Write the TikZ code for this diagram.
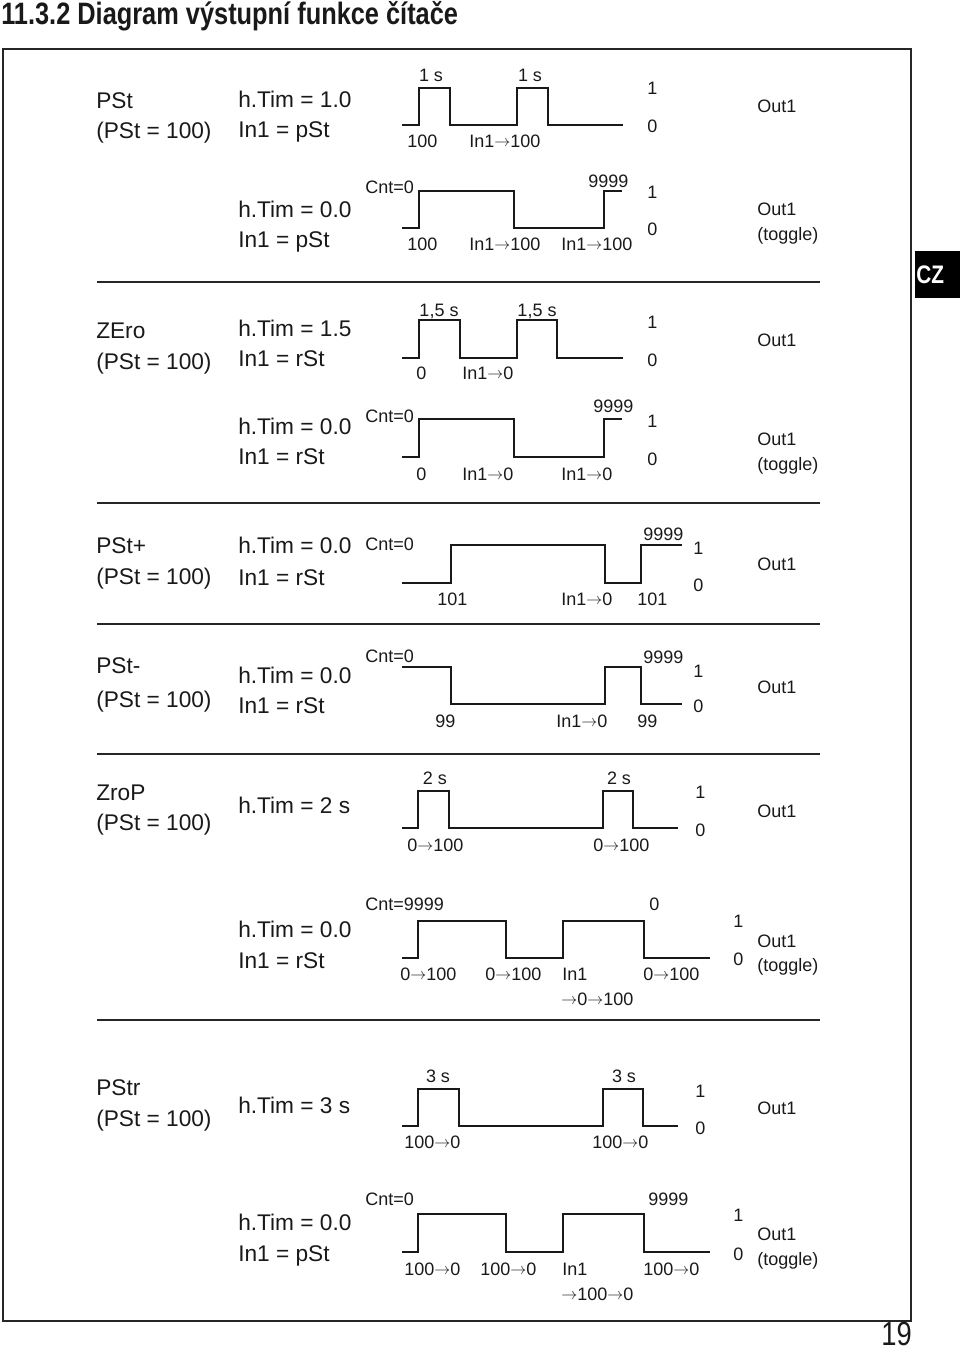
\documentclass[tikz,border=0pt]{standalone}
\usepackage{fontspec}
\setmainfont{Liberation Sans}
\newfontfamily\titlefont[FakeStretch=0.82]{Liberation Sans}
\usetikzlibrary{positioning}
\newcommand{\toarr}{\raisebox{0.4pt}{\fontsize{12}{12}\selectfont$\rightarrow$}}
\tikzset{
    txt/.style = {inner sep=0pt, anchor=base west, text=black!90},
    modetxt/.style = {txt, font=\fontsize{17}{20}\selectfont},
    partxt/.style = {modetxt},
    lbl/.style = {txt, font=\fontsize{13.5}{16}\selectfont},
    lvltxt/.style = {lbl},
    outtxt/.style = {lbl},
    titletxt/.style = {txt, font=\titlefont\bfseries\fontsize{23.2}{25}\selectfont},
    wave/.style = {line width=1.5pt, draw=black!90},
    sepline/.style = {line width=2.2pt, draw=black!85},
    boxline/.style = {line width=1.9pt, draw=black!85}
}

\begin{document}
\begin{tikzpicture}[x=0.75pt, y=-0.75pt]
        \useasboundingbox (0,0) rectangle (960,1352);

        % Title, frame, tab and page number
        \node (title) [titletxt] at (1,25) {11.3.2 Diagram výstupní funkce čítače};
        \draw [boxline] (3,49) rectangle (911,1321);
        \node (cz_tab) [fill=black, anchor=north west, inner sep=0pt, minimum width=33.75pt, minimum height=35.25pt] at (915,251) {};
        \node (cz) [txt, text=white, font=\titlefont\bfseries\fontsize{19}{20}\selectfont] at (916,283) {CZ};
        \node (page) [txt, anchor=base east, font=\titlefont\fontsize{25}{26}\selectfont] at (912,1345) {19};

        % Separators
        \draw [sepline] (97,282) -- (820,282);
        \draw [sepline] (97,503) -- (820,503);
        \draw [sepline] (97,624) -- (820,624);
        \draw [sepline] (97,754) -- (820,754);
        \draw [sepline] (97,1020) -- (820,1020);

        % PSt, h.Tim = 1.0
        \node (pst_name) [modetxt] at (96,109) {PSt};
        \node (pst_val) [modetxt] at (96,139) {(PSt = 100)};
        \node (pst_tim) [partxt] at (238,108) {h.Tim = 1.0};
        \node (pst_in) [partxt] at (238,138) {In1 = pSt};
        \draw [wave] (402,125) -| (419,88) -| (450,125) -| (517,88) -| (548,125) -- (623,125);
        \node (pst_s1) [lbl, anchor=base] at (431,82) {1 s};
        \node (pst_s2) [lbl, anchor=base] at (530,82) {1 s};
        \node (pst_c1) [lbl] at (407,147) {100};
        \node (pst_c2) [lbl] at (469,147) {In1\toarr 100};
        \node (pst_hi) [lvltxt] at (647,95) {1};
        \node (pst_lo) [lvltxt] at (647,133) {0};
        \node (pst_out) [outtxt] at (757,113) {Out1};

        % PSt, h.Tim = 0.0 (toggle)
        \node (pstt_tim) [partxt] at (238,217) {h.Tim = 0.0};
        \node (pstt_in) [partxt] at (238,247) {In1 = pSt};
        \draw [wave] (402,228) -| (419,191) -| (514,228) -| (604,191) -- (622,191);
        \node (pstt_cnt) [lbl] at (365,194) {Cnt=0};
        \node (pstt_max) [lbl] at (588,187) {9999};
        \node (pstt_c1) [lbl] at (407,250) {100};
        \node (pstt_c2) [lbl] at (469,250) {In1\toarr 100};
        \node (pstt_c3) [lbl] at (561,250) {In1\toarr 100};
        \node (pstt_hi) [lvltxt] at (647,199) {1};
        \node (pstt_lo) [lvltxt] at (647,235) {0};
        \node (pstt_out) [outtxt] at (757,215) {Out1};
        \node (pstt_tog) [outtxt] at (757,240) {(toggle)};

        % ZEro, h.Tim = 1.5
        \node (zero_name) [modetxt] at (96,338) {ZEro};
        \node (zero_val) [modetxt] at (96,369) {(PSt = 100)};
        \node (zero_tim) [partxt] at (238,336) {h.Tim = 1.5};
        \node (zero_in) [partxt] at (238,366) {In1 = rSt};
        \draw [wave] (402,358) -| (419,320) -| (460,358) -| (517,320) -| (557,358) -- (623,358);
        \node (zero_s1) [lbl, anchor=base] at (439,316) {1,5 s};
        \node (zero_s2) [lbl, anchor=base] at (537,316) {1,5 s};
        \node (zero_c1) [lbl] at (416,379) {0};
        \node (zero_c2) [lbl] at (462,379) {In1\toarr 0};
        \node (zero_hi) [lvltxt] at (647,328) {1};
        \node (zero_lo) [lvltxt] at (647,366) {0};
        \node (zero_out) [outtxt] at (757,346) {Out1};

        % ZEro, h.Tim = 0.0 (toggle)
        \node (zerot_tim) [partxt] at (238,434) {h.Tim = 0.0};
        \node (zerot_in) [partxt] at (238,464) {In1 = rSt};
        \draw [wave] (402,457) -| (419,419) -| (514,457) -| (604,419) -- (622,419);
        \node (zerot_cnt) [lbl] at (365,422) {Cnt=0};
        \node (zerot_max) [lbl] at (593,412) {9999};
        \node (zerot_c1) [lbl] at (416,480) {0};
        \node (zerot_c2) [lbl] at (462,480) {In1\toarr 0};
        \node (zerot_c3) [lbl] at (561,480) {In1\toarr 0};
        \node (zerot_hi) [lvltxt] at (647,427) {1};
        \node (zerot_lo) [lvltxt] at (647,465) {0};
        \node (zerot_out) [outtxt] at (757,445) {Out1};
        \node (zerot_tog) [outtxt] at (757,470) {(toggle)};

        % PSt+
        \node (plus_name) [modetxt] at (96,553) {PSt+};
        \node (plus_val) [modetxt] at (96,584) {(PSt = 100)};
        \node (plus_tim) [partxt] at (238,553) {h.Tim = 0.0};
        \node (plus_in) [partxt] at (238,585) {In1 = rSt};
        \draw [wave] (402,583) -| (451,545) -| (605,583) -| (641,545) -- (682,545);
        \node (plus_cnt) [lbl] at (365,550) {Cnt=0};
        \node (plus_max) [lbl] at (643,540) {9999};
        \node (plus_c1) [lbl] at (437,605) {101};
        \node (plus_c2) [lbl] at (561,605) {In1\toarr 0};
        \node (plus_c3) [lbl] at (637,605) {101};
        \node (plus_hi) [lvltxt] at (693,554) {1};
        \node (plus_lo) [lvltxt] at (693,591) {0};
        \node (plus_out) [outtxt] at (757,570) {Out1};

        % PSt-
        \node (minus_name) [modetxt] at (96,673) {PSt-};
        \node (minus_val) [modetxt] at (96,707) {(PSt = 100)};
        \node (minus_tim) [partxt] at (238,683) {h.Tim = 0.0};
        \node (minus_in) [partxt] at (238,713) {In1 = rSt};
        \draw [wave] (402,667) -| (451,704) -| (605,667) -| (641,704) -- (682,704);
        \node (minus_cnt) [lbl] at (365,662) {Cnt=0};
        \node (minus_max) [lbl] at (643,663) {9999};
        \node (minus_c1) [lbl] at (435,727) {99};
        \node (minus_c2) [lbl] at (556,727) {In1\toarr 0};
        \node (minus_c3) [lbl] at (637,727) {99};
        \node (minus_hi) [lvltxt] at (693,677) {1};
        \node (minus_lo) [lvltxt] at (693,712) {0};
        \node (minus_out) [outtxt] at (757,693) {Out1};

        % ZroP, h.Tim = 2 s
        \node (zrop_name) [modetxt] at (96,800) {ZroP};
        \node (zrop_val) [modetxt] at (96,830) {(PSt = 100)};
        \node (zrop_tim) [partxt] at (238,813) {h.Tim = 2 s};
        \draw [wave] (402,828) -| (418,791) -| (449,828) -| (603,791) -| (633,828) -- (678,828);
        \node (zrop_s1) [lbl, anchor=base] at (435,784) {2 s};
        \node (zrop_s2) [lbl, anchor=base] at (619,784) {2 s};
        \node (zrop_c1) [lbl] at (407,851) {0\toarr 100};
        \node (zrop_c2) [lbl] at (593,851) {0\toarr 100};
        \node (zrop_hi) [lvltxt] at (695,798) {1};
        \node (zrop_lo) [lvltxt] at (695,836) {0};
        \node (zrop_out) [outtxt] at (757,817) {Out1};

        % ZroP, h.Tim = 0.0 (toggle)
        \node (zropt_tim) [partxt] at (238,937) {h.Tim = 0.0};
        \node (zropt_in) [partxt] at (238,968) {In1 = rSt};
        \draw [wave] (402,958) -| (418,921) -| (506,958) -| (563,921) -| (644,958) -- (710,958);
        \node (zropt_cnt) [lbl] at (365,910) {Cnt=9999};
        \node (zropt_max) [lbl] at (649,910) {0};
        \node (zropt_c1) [lbl] at (400,980) {0\toarr 100};
        \node (zropt_c2) [lbl] at (485,980) {0\toarr 100};
        \node (zropt_c3) [lbl] at (562,980) {In1};
        \node (zropt_c3b) [lbl] at (561,1005) {\toarr 0\toarr 100};
        \node (zropt_c4) [lbl] at (643,980) {0\toarr 100};
        \node (zropt_hi) [lvltxt] at (733,927) {1};
        \node (zropt_lo) [lvltxt] at (733,965) {0};
        \node (zropt_out) [outtxt] at (757,947) {Out1};
        \node (zropt_tog) [outtxt] at (757,971) {(toggle)};

        % PStr, h.Tim = 3 s
        \node (pstr_name) [modetxt] at (96,1095) {PStr};
        \node (pstr_val) [modetxt] at (96,1126) {(PSt = 100)};
        \node (pstr_tim) [partxt] at (238,1113) {h.Tim = 3 s};
        \draw [wave] (402,1126) -| (418,1089) -| (459,1126) -| (603,1089) -| (643,1126) -- (678,1126);
        \node (pstr_s1) [lbl, anchor=base] at (438,1082) {3 s};
        \node (pstr_s2) [lbl, anchor=base] at (624,1082) {3 s};
        \node (pstr_c1) [lbl] at (404,1148) {100\toarr 0};
        \node (pstr_c2) [lbl] at (592,1148) {100\toarr 0};
        \node (pstr_hi) [lvltxt] at (695,1097) {1};
        \node (pstr_lo) [lvltxt] at (695,1134) {0};
        \node (pstr_out) [outtxt] at (757,1114) {Out1};

        % PStr, h.Tim = 0.0 (toggle)
        \node (pstrt_tim) [partxt] at (238,1230) {h.Tim = 0.0};
        \node (pstrt_in) [partxt] at (238,1261) {In1 = pSt};
        \draw [wave] (402,1252) -| (418,1214) -| (506,1252) -| (563,1214) -| (644,1252) -- (710,1252);
        \node (pstrt_cnt) [lbl] at (365,1205) {Cnt=0};
        \node (pstrt_max) [lbl] at (648,1205) {9999};
        \node (pstrt_c1) [lbl] at (404,1275) {100\toarr 0};
        \node (pstrt_c2) [lbl] at (480,1275) {100\toarr 0};
        \node (pstrt_c3) [lbl] at (562,1275) {In1};
        \node (pstrt_c3b) [lbl] at (561,1300) {\toarr 100\toarr 0};
        \node (pstrt_c4) [lbl] at (643,1275) {100\toarr 0};
        \node (pstrt_hi) [lvltxt] at (733,1221) {1};
        \node (pstrt_lo) [lvltxt] at (733,1260) {0};
        \node (pstrt_out) [outtxt] at (757,1240) {Out1};
        \node (pstrt_tog) [outtxt] at (757,1265) {(toggle)};
    \end{tikzpicture}
\end{document}
